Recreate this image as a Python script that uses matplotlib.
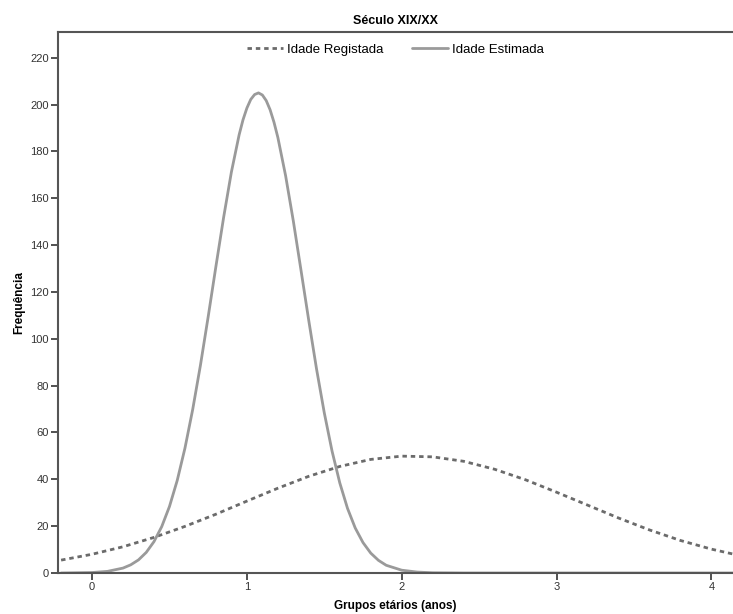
import matplotlib
matplotlib.use("Agg")
import matplotlib.pyplot as plt

# values
x_reg = [-0.2, 0.0, 0.2, 0.4, 0.6, 0.8, 1.0, 1.2, 1.4, 1.6, 1.8, 2.0,
         2.2, 2.4, 2.6, 2.8, 3.0, 3.2, 3.4, 3.6, 3.8, 4.0, 4.2]
y_reg = [5.5, 8.0, 11.2, 15.2, 19.9, 25.1, 30.7, 36.2, 41.3, 45.5, 48.5, 49.9,
         49.6, 47.7, 44.3, 39.8, 34.5, 29.0, 23.5, 18.4, 13.9, 10.2, 7.2]

x_est = [-0.2, 0.0, 0.1, 0.2, 0.25, 0.3, 0.35, 0.4, 0.45, 0.5, 0.55, 0.6,
         0.65, 0.7, 0.75, 0.8, 0.85, 0.9, 0.95, 0.975, 1.0, 1.025, 1.05, 1.075,
         1.1, 1.125, 1.15, 1.175, 1.2, 1.25, 1.3, 1.35, 1.4, 1.45, 1.5, 1.55,
         1.6, 1.65, 1.7, 1.75, 1.8, 1.85, 1.9, 2.0, 2.1, 2.2, 2.4, 3.0, 4.2]
y_est = [0.0, 0.2, 0.7, 2.1, 3.5, 5.6, 8.8, 13.4, 19.8, 28.4, 39.5, 53.3,
         69.8, 88.7, 109.4, 130.9, 151.9, 171.2, 187.1, 193.5, 198.5, 202.2, 204.3, 205.0,
         204.1, 201.7, 197.8, 192.5, 186.0, 169.7, 150.3, 129.1, 107.7, 87.1, 68.4, 52.1,
         38.5, 27.6, 19.2, 13.0, 8.5, 5.4, 3.3, 1.2, 0.4, 0.1, 0.0, 0.0, 0.0]

yticks = list(range(0, 221, 20))
xticks = [0, 1, 2, 3, 4]

bold_font = ['Liberation Sans Narrow', 'Liberation Sans', 'DejaVu Sans']
plt.rcParams['font.family'] = ['Liberation Sans', 'DejaVu Sans']

fig = plt.figure(figsize=(7.33, 6.14), dpi=100)
ax = fig.add_axes([58 / 733, 1 - 573 / 614, 1 - 58 / 733, (573 - 32) / 614])

ax.plot(x_reg, y_reg, color='#6b6b6b', lw=2.0, dashes=(1.6, 1.4),
        label='Idade Registada')
ax.plot(x_est, y_est, color='#9a9a9a', lw=2.0, label='Idade Estimada',
        solid_capstyle='round')

ax.set_xlim(-0.22, 4.14)
ax.set_ylim(0, 231)
ax.set_xticks(xticks)
ax.set_yticks(yticks)
ax.tick_params(labelsize=8, colors='#333333', length=5, width=1.2, pad=1.5)
for s in ['left', 'top', 'bottom']:
    ax.spines[s].set_color('#555555')
    ax.spines[s].set_linewidth(1.5)
ax.spines['right'].set_visible(False)

ax.set_title('Século XIX/XX', fontsize=9, fontweight='bold', family=bold_font, pad=6)
ax.set_xlabel('Grupos etários (anos)', fontsize=8.5, fontweight='bold', family=bold_font, labelpad=6)
ax.set_ylabel('Frequência', fontsize=8.5, fontweight='bold', family=bold_font, labelpad=4)

ax.legend(loc='upper center', bbox_to_anchor=(0.5, 1.0), ncol=2, frameon=False,
          fontsize=9.5, handlelength=2.7, columnspacing=2.2, handletextpad=0.3)

fig.savefig('out.png', dpi=100)
